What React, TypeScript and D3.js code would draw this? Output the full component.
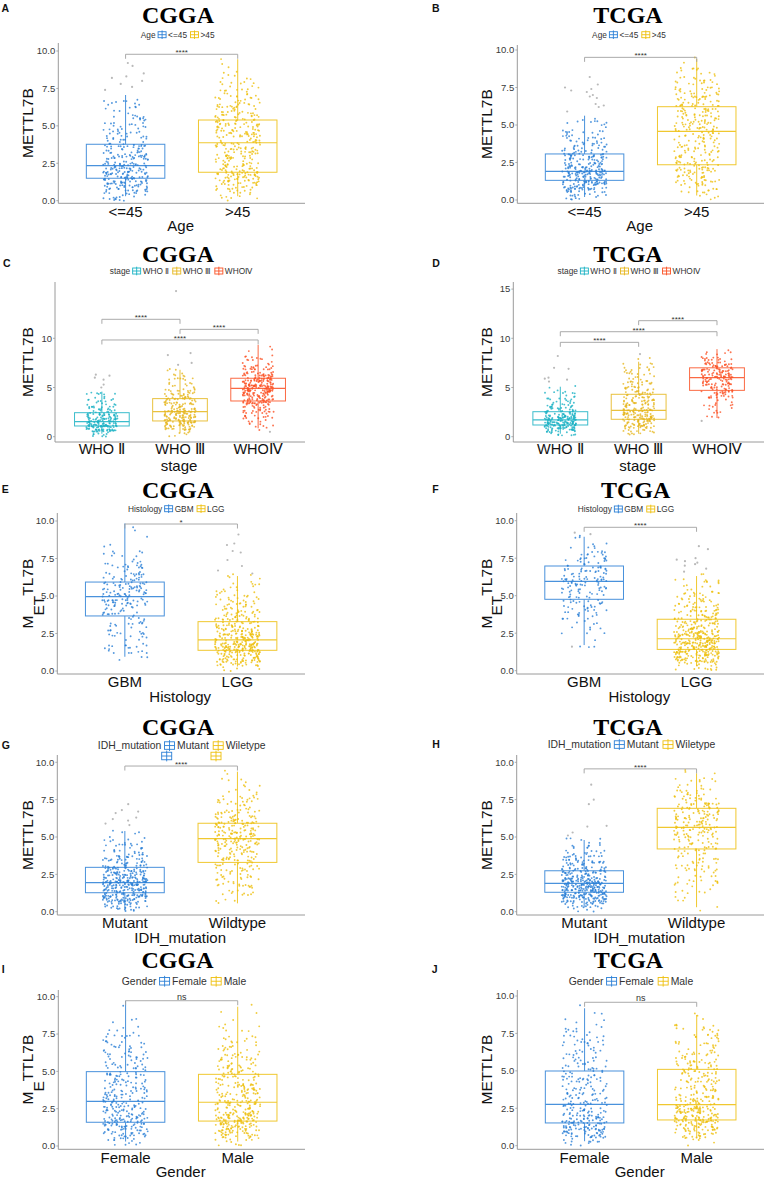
import React, { useEffect, useRef } from "react";
import * as d3 from "d3";

const W = 768;
const H = 1179;
const SANS = "'Liberation Sans', Arial, Helvetica, sans-serif";
const SERIF = "'Liberation Serif', 'Times New Roman', serif";
const BIN = 0.5; // histogram bin width for jittered points (bins start at 0)

// ---------- categories ----------
const ageGroups = ["<=45", ">45"];
const stageGroups = ["WHO Ⅱ", "WHO Ⅲ", "WHOⅣ"];
const histologyGroups = ["GBM", "LGG"];
const idhGroups = ["Mutant", "Wildtype"];
const idhLegendLabels = ["Mutant", "Wiletype"];
const genderGroups = ["Female", "Male"];

const blueYellow = ["#2a7fd6", "#eebf0c"];
const stageColors = ["#1ab2c4", "#e6b71e", "#fb5124"];

// ---------- box statistics: [lower whisker, Q1, median, Q3, upper whisker] ----------
const cggaAgeBoxes = [[0.3, 1.5, 2.34, 3.77, 7.06], [0.3, 1.9, 3.87, 5.39, 9.45]];
const tcgaAgeBoxes = [[0.2, 1.31, 1.91, 3.07, 5.62], [0.3, 2.35, 4.58, 6.22, 9.4]];
const cggaStageBoxes = [[0.3, 1.09, 1.53, 2.44, 4.58], [0.4, 1.6, 2.54, 3.87, 6.8], [0.85, 3.63, 4.92, 5.94, 9.33]];
const tcgaStageBoxes = [[0.3, 1.19, 1.7, 2.54, 5.08], [0.3, 1.77, 2.68, 4.31, 7.62], [1.9, 4.71, 6.0, 7.0, 8.9]];
const cggaHistBoxes = [[0.95, 3.67, 4.96, 5.93, 9.84], [0.3, 1.38, 2.07, 3.29, 6.33]];
const tcgaHistBoxes = [[1.71, 4.76, 5.96, 6.98, 8.93], [0.3, 1.42, 2.13, 3.43, 6.31]];
const cggaIdhBoxes = [[0.3, 1.27, 1.94, 2.97, 5.4], [0.56, 3.3, 4.89, 5.92, 9.37]];
const tcgaIdhBoxes = [[0.3, 1.3, 1.9, 2.74, 4.8], [0.3, 4.2, 5.65, 6.92, 9.26]];
const cggaGenderBoxes = [[0.3, 1.59, 2.99, 4.98, 9.73], [0.3, 1.67, 2.93, 4.8, 9.33]];
const tcgaGenderBoxes = [[0.3, 1.52, 2.76, 4.99, 9.18], [0.5, 1.72, 2.74, 5.1, 8.73]];

// ---------- point counts per 0.5-wide bin (0-0.5, 0.5-1, ... 9.5-10) ----------
const cggaAgeCounts = [
  [15, 30, 40, 45, 40, 30, 25, 20, 17, 14, 12, 10, 8, 6, 0, 0, 0, 0, 0, 0],
  [8, 18, 30, 36, 28, 25, 25, 25, 26, 28, 28, 24, 20, 16, 12, 9, 5, 3, 2, 0],
];
const tcgaAgeCounts = [
  [15, 40, 50, 60, 42, 33, 25, 20, 14, 10, 9, 0, 0, 0, 0, 0, 0, 0, 0, 0],
  [6, 12, 20, 25, 25, 20, 18, 18, 20, 22, 24, 25, 24, 20, 18, 14, 10, 6, 2, 0],
];
const cggaStageCounts = [
  [10, 35, 50, 35, 25, 15, 12, 9, 8, 0, 0, 0, 0, 0, 0, 0, 0, 0, 0, 0],
  [6, 18, 30, 36, 32, 28, 24, 20, 16, 12, 9, 7, 5, 3, 0, 0, 0, 0, 0, 0],
  [0, 2, 6, 8, 12, 16, 24, 28, 32, 42, 42, 36, 25, 16, 11, 7, 4, 2, 1, 0],
];
const tcgaStageCounts = [
  [10, 35, 50, 45, 30, 20, 14, 10, 7, 4, 1, 0, 0, 0, 0, 0, 0, 0, 0, 0],
  [6, 16, 26, 34, 32, 28, 22, 20, 18, 14, 12, 10, 9, 8, 6, 2, 0, 0, 0, 0],
  [0, 0, 0, 1, 4, 4, 7, 8, 14, 18, 20, 24, 28, 26, 20, 12, 7, 3, 0, 0],
];
const cggaHistCounts = [
  [0, 3, 8, 10, 10, 10, 12, 14, 20, 26, 28, 26, 20, 14, 10, 8, 2, 1, 1, 1],
  [15, 45, 60, 65, 55, 40, 32, 25, 20, 15, 11, 8, 5, 0, 0, 0, 0, 0, 0, 0],
];
const tcgaHistCounts = [
  [0, 0, 0, 3, 3, 5, 8, 10, 14, 16, 18, 22, 24, 22, 16, 12, 6, 3, 0, 0],
  [15, 50, 60, 70, 60, 45, 35, 28, 22, 17, 12, 9, 6, 0, 0, 0, 0, 0, 0, 0],
];
const cggaIdhCounts = [
  [20, 50, 65, 70, 60, 45, 30, 22, 15, 10, 5, 0, 0, 0, 0, 0, 0, 0, 0, 0],
  [0, 4, 10, 14, 14, 16, 20, 22, 28, 34, 36, 32, 24, 18, 14, 10, 6, 4, 2, 0],
];
const tcgaIdhCounts = [
  [15, 55, 75, 75, 60, 45, 30, 20, 12, 6, 0, 0, 0, 0, 0, 0, 0, 0, 0, 0],
  [2, 4, 6, 8, 10, 12, 12, 13, 16, 20, 24, 28, 28, 26, 22, 16, 12, 7, 3, 0],
];
const cggaGenderCounts = [
  [10, 25, 35, 35, 30, 28, 25, 22, 20, 20, 16, 14, 13, 12, 10, 6, 2, 1, 1, 0],
  [10, 30, 40, 50, 40, 32, 28, 26, 24, 22, 20, 17, 14, 10, 7, 5, 3, 2, 1, 0],
];
const tcgaGenderCounts = [
  [12, 32, 40, 38, 28, 22, 20, 18, 17, 16, 14, 12, 11, 11, 10, 8, 4, 2, 1, 0],
  [4, 22, 38, 52, 45, 32, 24, 22, 20, 20, 19, 17, 15, 13, 11, 8, 5, 2, 0, 0],
];

// ---------- outliers (drawn grey) ----------
const cggaAgeOutliers = [[7.4, 7.6, 7.8, 8.0, 8.2, 8.3, 8.5, 9.0, 9.2], []];
const tcgaAgeOutliers = [[5.9, 6.2, 6.3, 6.4, 6.8, 6.9, 7.0, 7.2, 7.3, 7.4, 7.5, 7.7, 8.2], []];
const cggaStageOutliers = [[5.0, 5.3, 5.8, 6.0, 6.2, 6.3], [7.3, 7.5, 8.3, 8.5, 14.8], [0.5]];
const tcgaStageOutliers = [[5.6, 5.8, 5.9, 6.0, 6.9, 7.0, 8.2], [8.4], [1.6]];
const cggaHistOutliers = [[], [6.5, 6.7, 7.0, 7.4, 7.9, 8.0, 8.4, 8.5, 9.1]];
const tcgaHistOutliers = [[1.6, 9.1, 9.2], [6.6, 6.8, 7.0, 7.1, 7.2, 7.3, 7.4, 7.5, 8.1, 8.3]];
const cggaIdhOutliers = [[5.8, 5.9, 6.1, 6.2, 6.3, 6.6, 6.7, 6.8, 7.2], []];
const tcgaIdhOutliers = [[5.1, 5.3, 5.7, 5.75, 7.2, 7.5, 8.5], []];
const cggaGenderOutliers = [[], []];
const tcgaGenderOutliers = [[], []];

// ---------- significance brackets: [group i, group j, y value, label] ----------
const cggaAgeComps = [[0, 1, 9.78, "****"]];
const tcgaAgeComps = [[0, 1, 9.51, "****"]];
const cggaStageComps = [[0, 1, 11.93, "****"], [1, 2, 10.91, "****"], [0, 2, 9.83, "****"]];
const tcgaStageComps = [[0, 1, 9.59, "****"], [0, 2, 10.67, "****"], [1, 2, 11.79, "****"]];
const cggaHistComps = [[0, 1, 9.8, "*"]];
const tcgaHistComps = [[0, 1, 9.56, "****"]];
const cggaIdhComps = [[0, 1, 9.75, "****"]];
const tcgaIdhComps = [[0, 1, 9.56, "****"]];
const cggaGenderComps = [[0, 1, 9.73, "ns"]];
const tcgaGenderComps = [[0, 1, 9.58, "ns"]];

// ---------- tick values ----------
const ticksDecimal = [0, 2.5, 5, 7.5, 10];
const ticksStageC = [0, 5, 10];
const ticksStageD = [0, 5, 10, 15];

const yLabelNormal = [["METTL7B", 0]];
const yLabelET = [["M", 0], ["ET", 10.7], ["TL7B", -10.7]];
const yLabelE = [["M", 0], ["E", 10.7], ["TTL7B", -10.7]];

const LEFT_YL = 33;
const RIGHT_YL = 491.5;

const panels: any[] = [
  { letter: "A", lx: 1.5, ly: 12, title: "CGGA", tx: 178, ty: 23.3, lgTitle: "Age", lgLabels: ageGroups, lgx: 177.7, lgy: 37.7, lgFont: 8.3,
    groups: ageGroups, colors: blueYellow, boxes: cggaAgeBoxes, counts: cggaAgeCounts, outliers: cggaAgeOutliers, comps: cggaAgeComps,
    left: 58.3, right: 305, top: 43, bottom: 203.3, y0: 200.7, y10: 51, ticks: ticksDecimal, fmt: ".1f", ylx: LEFT_YL, ylabel: yLabelNormal, xTitle: "Age" },
  { letter: "B", lx: 432, ly: 12, title: "TCGA", tx: 628, ty: 23.3, lgTitle: "Age", lgLabels: ageGroups, lgx: 629, lgy: 37.7, lgFont: 8.3,
    groups: ageGroups, colors: blueYellow, boxes: tcgaAgeBoxes, counts: tcgaAgeCounts, outliers: tcgaAgeOutliers, comps: tcgaAgeComps,
    left: 517.3, right: 764, top: 45, bottom: 203.3, y0: 200, y10: 50, ticks: ticksDecimal, fmt: ".1f", ylx: RIGHT_YL, ylabel: yLabelNormal, xTitle: "Age" },
  { letter: "C", lx: 3, ly: 266.7, title: "CGGA", tx: 178, ty: 261.7, lgTitle: "stage", lgLabels: stageGroups, lgx: 181, lgy: 274, lgFont: 8.3,
    groups: stageGroups, colors: stageColors, boxes: cggaStageBoxes, counts: cggaStageCounts, outliers: cggaStageOutliers, comps: cggaStageComps,
    left: 55, right: 305, top: 282, bottom: 442, y0: 436.7, y10: 338.3, ticks: ticksStageC, fmt: "d", ylx: LEFT_YL, ylabel: yLabelNormal, xTitle: "stage",
    tickDy: 12, titleDy: 29, tickFont: 14.5 },
  { letter: "D", lx: 432.3, ly: 266.7, title: "TCGA", tx: 628, ty: 261.7, lgTitle: "stage", lgLabels: stageGroups, lgx: 628.7, lgy: 274, lgFont: 8.3,
    groups: stageGroups, colors: stageColors, boxes: tcgaStageBoxes, counts: tcgaStageCounts, outliers: tcgaStageOutliers, comps: tcgaStageComps,
    left: 513.3, right: 764, top: 282, bottom: 442, y0: 436.7, y10: 338.3, ticks: ticksStageD, fmt: "d", ylx: RIGHT_YL, ylabel: yLabelNormal, xTitle: "stage",
    tickDy: 12, titleDy: 29, tickFont: 14.5 },
  { letter: "E", lx: 1.7, ly: 492.7, title: "CGGA", tx: 178, ty: 498.3, lgTitle: "Histology", lgLabels: histologyGroups, lgx: 176.3, lgy: 511.7, lgFont: 8.3,
    groups: histologyGroups, colors: blueYellow, boxes: cggaHistBoxes, counts: cggaHistCounts, outliers: cggaHistOutliers, comps: cggaHistComps,
    left: 57.3, right: 305, top: 513, bottom: 674, y0: 671, y10: 521, ticks: ticksDecimal, fmt: ".1f", ylx: LEFT_YL, ylabel: yLabelET, xTitle: "Histology" },
  { letter: "F", lx: 432.3, ly: 492.7, title: "TCGA", tx: 635.7, ty: 498.3, lgTitle: "Histology", lgLabels: histologyGroups, lgx: 626, lgy: 512, lgFont: 8.3,
    groups: histologyGroups, colors: blueYellow, boxes: tcgaHistBoxes, counts: tcgaHistCounts, outliers: tcgaHistOutliers, comps: tcgaHistComps,
    left: 516.7, right: 764, top: 513, bottom: 674, y0: 670.7, y10: 520.7, ticks: ticksDecimal, fmt: ".1f", ylx: RIGHT_YL, ylabel: yLabelET, xTitle: "Histology" },
  { letter: "G", lx: 1.7, ly: 749, title: "CGGA", tx: 178, ty: 735, lgTitle: "IDH_mutation", lgLabels: idhLegendLabels, lgx: 181.7, lgy: 749.3, lgFont: 10.4,
    groups: idhGroups, colors: blueYellow, boxes: cggaIdhBoxes, counts: cggaIdhCounts, outliers: cggaIdhOutliers, comps: cggaIdhComps,
    left: 57.3, right: 305, top: 755, bottom: 915, y0: 911.7, y10: 762.3, ticks: ticksDecimal, fmt: ".1f", ylx: LEFT_YL, ylabel: yLabelNormal, xTitle: "IDH_mutation",
    extraKeys: [[166.7, 756], [216, 756]] },
  { letter: "H", lx: 432.3, ly: 748, title: "TCGA", tx: 628, ty: 735, lgTitle: "IDH_mutation", lgLabels: idhLegendLabels, lgx: 631.5, lgy: 748.3, lgFont: 10.4,
    groups: idhGroups, colors: blueYellow, boxes: tcgaIdhBoxes, counts: tcgaIdhCounts, outliers: tcgaIdhOutliers, comps: tcgaIdhComps,
    left: 516.7, right: 764, top: 755, bottom: 915, y0: 911.7, y10: 762.3, ticks: ticksDecimal, fmt: ".1f", ylx: RIGHT_YL, ylabel: yLabelNormal, xTitle: "IDH_mutation" },
  { letter: "I", lx: 1.7, ly: 973, title: "CGGA", tx: 177.5, ty: 968.3, lgTitle: "Gender", lgLabels: genderGroups, lgx: 184, lgy: 985, lgFont: 10.4,
    groups: genderGroups, colors: blueYellow, boxes: cggaGenderBoxes, counts: cggaGenderCounts, outliers: cggaGenderOutliers, comps: cggaGenderComps,
    left: 58.3, right: 305, top: 990, bottom: 1149.3, y0: 1146, y10: 996.7, ticks: ticksDecimal, fmt: ".1f", ylx: LEFT_YL, ylabel: yLabelE, xTitle: "Gender" },
  { letter: "J", lx: 431.7, ly: 973, title: "TCGA", tx: 628.5, ty: 968.3, lgTitle: "Gender", lgLabels: genderGroups, lgx: 631, lgy: 985, lgFont: 10.4,
    groups: genderGroups, colors: blueYellow, boxes: tcgaGenderBoxes, counts: tcgaGenderCounts, outliers: tcgaGenderOutliers, comps: tcgaGenderComps,
    left: 517.3, right: 764, top: 990, bottom: 1149.3, y0: 1145.7, y10: 996, ticks: ticksDecimal, fmt: ".1f", ylx: RIGHT_YL, ylabel: yLabelNormal, xTitle: "Gender" },
];

const frac = (t: number) => t - Math.floor(t);
// deterministic hash in [0,1) used only for the jitter layout inside a bin
const hash = (a: number, b: number, c: number) =>
  frac(Math.sin(a * 12.9898 + b * 78.233 + c * 37.719) * 43758.5453);

// place the binned counts inside their bins (jitter layout)
function layoutPoints(counts: number[], gi: number, pi: number) {
  const pts: { v: number; j: number }[] = [];
  counts.forEach((n, b) => {
    for (let k = 0; k < n; k++) {
      const u = hash(k + 1.3, b + 0.7, gi * 3.1 + pi * 11.7 + 0.5);
      const w = hash(k * 1.7 + 5.1, b * 1.3 + 2.9, gi * 5.3 + pi * 7.9 + 1.1);
      pts.push({ v: b * BIN + w * BIN, j: u - 0.5 });
    }
  });
  return pts;
}

function keyIcon(g: any, cx: number, cy: number, color: string, s: number) {
  const w = 8 * s, h = 6 * s;
  g.append("rect").attr("x", cx - w / 2).attr("y", cy - h / 2).attr("width", w).attr("height", h)
    .attr("fill", "white").attr("stroke", color).attr("stroke-width", 0.9);
  g.append("line").attr("x1", cx - w / 2).attr("x2", cx + w / 2).attr("y1", cy).attr("y2", cy)
    .attr("stroke", color).attr("stroke-width", 0.9);
  g.append("line").attr("x1", cx).attr("x2", cx).attr("y1", cy - h / 2 - 1.3 * s).attr("y2", cy + h / 2 + 1.3 * s)
    .attr("stroke", color).attr("stroke-width", 0.9);
}

function drawPanel(svg: any, p: any, pi: number) {
  const g = svg.append("g");
  const n = p.groups.length;
  const x = d3.scaleLinear().domain([0.4, n + 0.6]).range([p.left, p.right]);
  const y = d3.scaleLinear().domain([0, 10]).range([p.y0, p.y10]);
  const unit = x(2) - x(1);
  const boxHalf = 0.35 * unit;
  const jitter = 0.2 * unit;

  // panel letter
  g.append("text").attr("x", p.lx).attr("y", p.ly).text(p.letter)
    .attr("font-family", SANS).attr("font-weight", "bold").attr("font-size", 10.5).attr("fill", "#111");

  // title
  g.append("text").attr("x", p.tx).attr("y", p.ty).attr("text-anchor", "middle").text(p.title)
    .attr("font-family", SERIF).attr("font-weight", "bold").attr("font-size", 24).attr("fill", "#000");

  // legend
  const lg = g.append("g");
  const fs = p.lgFont;
  const s = fs / 8.3;
  const iconW = 8 * s;
  const cy = p.lgy - fs * 0.36;
  const items: any[] = [];
  let cursor = 0;
  const tTitle = lg.append("text").attr("y", p.lgy).text(p.lgTitle)
    .attr("font-family", SANS).attr("font-size", fs).attr("fill", "#333");
  items.push({ el: tTitle, x: 0 });
  cursor += (tTitle.node() as SVGTextElement).getComputedTextLength() + 2.5 * s;
  const icons: any[] = [];
  p.lgLabels.forEach((lab: string, i: number) => {
    icons.push({ x: cursor + iconW / 2, color: p.colors[i] });
    cursor += iconW + 2 * s;
    const t = lg.append("text").attr("y", p.lgy).text(lab)
      .attr("font-family", SANS).attr("font-size", fs).attr("fill", "#333");
    items.push({ el: t, x: cursor });
    cursor += (t.node() as SVGTextElement).getComputedTextLength() + 3.5 * s;
  });
  const total = cursor - 3.5 * s;
  const x0 = p.lgx - total / 2;
  items.forEach((it) => it.el.attr("x", x0 + it.x));
  icons.forEach((ic) => keyIcon(lg, x0 + ic.x, cy, ic.color, s));
  if (p.extraKeys) {
    p.extraKeys.forEach((k: number[], i: number) => keyIcon(lg, k[0], k[1], p.colors[i], s));
  }

  // axes
  g.append("line").attr("x1", p.left).attr("x2", p.left).attr("y1", p.top).attr("y2", p.bottom)
    .attr("stroke", "#9a9a9a").attr("stroke-width", 1);
  g.append("line").attr("x1", p.left).attr("x2", p.right).attr("y1", p.bottom).attr("y2", p.bottom)
    .attr("stroke", "#9a9a9a").attr("stroke-width", 1);
  const fmt = d3.format(p.fmt);
  p.ticks.forEach((t: number) => {
    g.append("line").attr("x1", p.left - 2).attr("x2", p.left).attr("y1", y(t)).attr("y2", y(t))
      .attr("stroke", "#9a9a9a").attr("stroke-width", 0.8);
    g.append("text").attr("x", p.left - 3).attr("y", y(t)).attr("dy", "0.35em").attr("text-anchor", "end")
      .text(fmt(t)).attr("font-family", SANS).attr("font-size", 9.5).attr("fill", "#3a3a3a");
  });
  const tickDy = p.tickDy ?? 13.3;
  const titleDy = p.titleDy ?? 27.5;
  const tickFont = p.tickFont ?? 15;
  p.groups.forEach((lab: string, i: number) => {
    g.append("text").attr("x", x(i + 1)).attr("y", p.bottom + tickDy).attr("text-anchor", "middle")
      .text(lab).attr("font-family", SANS).attr("font-size", tickFont).attr("fill", "#111");
  });
  g.append("text").attr("x", (p.left + p.right) / 2 - 1).attr("y", p.bottom + titleDy).attr("text-anchor", "middle")
    .text(p.xTitle).attr("font-family", SANS).attr("font-size", 15).attr("fill", "#111");

  // y title (rotated)
  const cyT = (p.top + p.bottom) / 2;
  const yt = g.append("text").attr("transform", `translate(${p.ylx},${cyT}) rotate(-90)`)
    .attr("text-anchor", "middle").attr("font-family", SANS).attr("font-size", 15.5).attr("fill", "#111");
  p.ylabel.forEach((part: any[]) => {
    yt.append("tspan").attr("dy", part[1]).text(part[0]);
  });

  // boxes
  p.boxes.forEach((b: number[], i: number) => {
    const cx = x(i + 1);
    const col = p.colors[i];
    const bg = g.append("g").attr("stroke", col).attr("stroke-width", 1).attr("fill", "none").attr("opacity", 0.85);
    bg.append("line").attr("x1", cx).attr("x2", cx).attr("y1", y(b[3])).attr("y2", y(b[4]));
    bg.append("line").attr("x1", cx).attr("x2", cx).attr("y1", y(b[1])).attr("y2", y(b[0]));
    bg.append("rect").attr("x", cx - boxHalf).attr("width", 2 * boxHalf)
      .attr("y", y(b[3])).attr("height", y(b[1]) - y(b[3]));
    bg.append("line").attr("x1", cx - boxHalf).attr("x2", cx + boxHalf).attr("y1", y(b[2])).attr("y2", y(b[2]))
      .attr("stroke-width", 1.2);
  });

  // jittered points
  p.counts.forEach((c: number[], i: number) => {
    const cx = x(i + 1);
    const pts = layoutPoints(c, i, pi);
    g.append("g").selectAll("circle").data(pts).join("circle")
      .attr("cx", (d: any) => cx + d.j * 2 * jitter)
      .attr("cy", (d: any) => y(d.v))
      .attr("r", 0.95)
      .attr("fill", p.colors[i])
      .attr("opacity", 0.8);
  });

  // outliers (grey)
  p.outliers.forEach((o: number[], i: number) => {
    const cx = x(i + 1);
    g.append("g").selectAll("circle").data(o).join("circle")
      .attr("cx", (_: any, k: number) => cx + (hash(k + 0.5, i + 3.3, pi + 9.1) - 0.5) * 2 * jitter)
      .attr("cy", (d: number) => y(d))
      .attr("r", 1.1)
      .attr("fill", "#b9b9b9");
  });

  // significance brackets
  p.comps.forEach((c: any[]) => {
    const xa = x(c[0] + 1), xb = x(c[1] + 1), yy = y(c[2]);
    g.append("path").attr("d", `M${xa},${yy + 4.5}V${yy}H${xb}V${yy + 4.5}`)
      .attr("fill", "none").attr("stroke", "#a0a0a0").attr("stroke-width", 0.9);
    const isNs = c[3] === "ns";
    g.append("text").attr("x", (xa + xb) / 2).attr("y", isNs ? yy - 1 : yy + 1)
      .attr("text-anchor", "middle").text(c[3])
      .attr("font-family", SANS).attr("font-size", isNs ? 9 : 8).attr("fill", "#333");
  });
}

export default function App() {
  const ref = useRef<SVGSVGElement | null>(null);
  useEffect(() => {
    document.body.style.margin = "0";
    const svg = d3.select(ref.current);
    svg.selectAll("*").remove();
    svg.append("rect").attr("width", W).attr("height", H).attr("fill", "white");
    panels.forEach((p, pi) => drawPanel(svg, p, pi));
  }, []);
  return (
    <svg ref={ref} width={W} height={H} viewBox={`0 0 ${W} ${H}`}
      style={{ display: "block", position: "absolute", left: 0, top: 0 }} />
  );
}
